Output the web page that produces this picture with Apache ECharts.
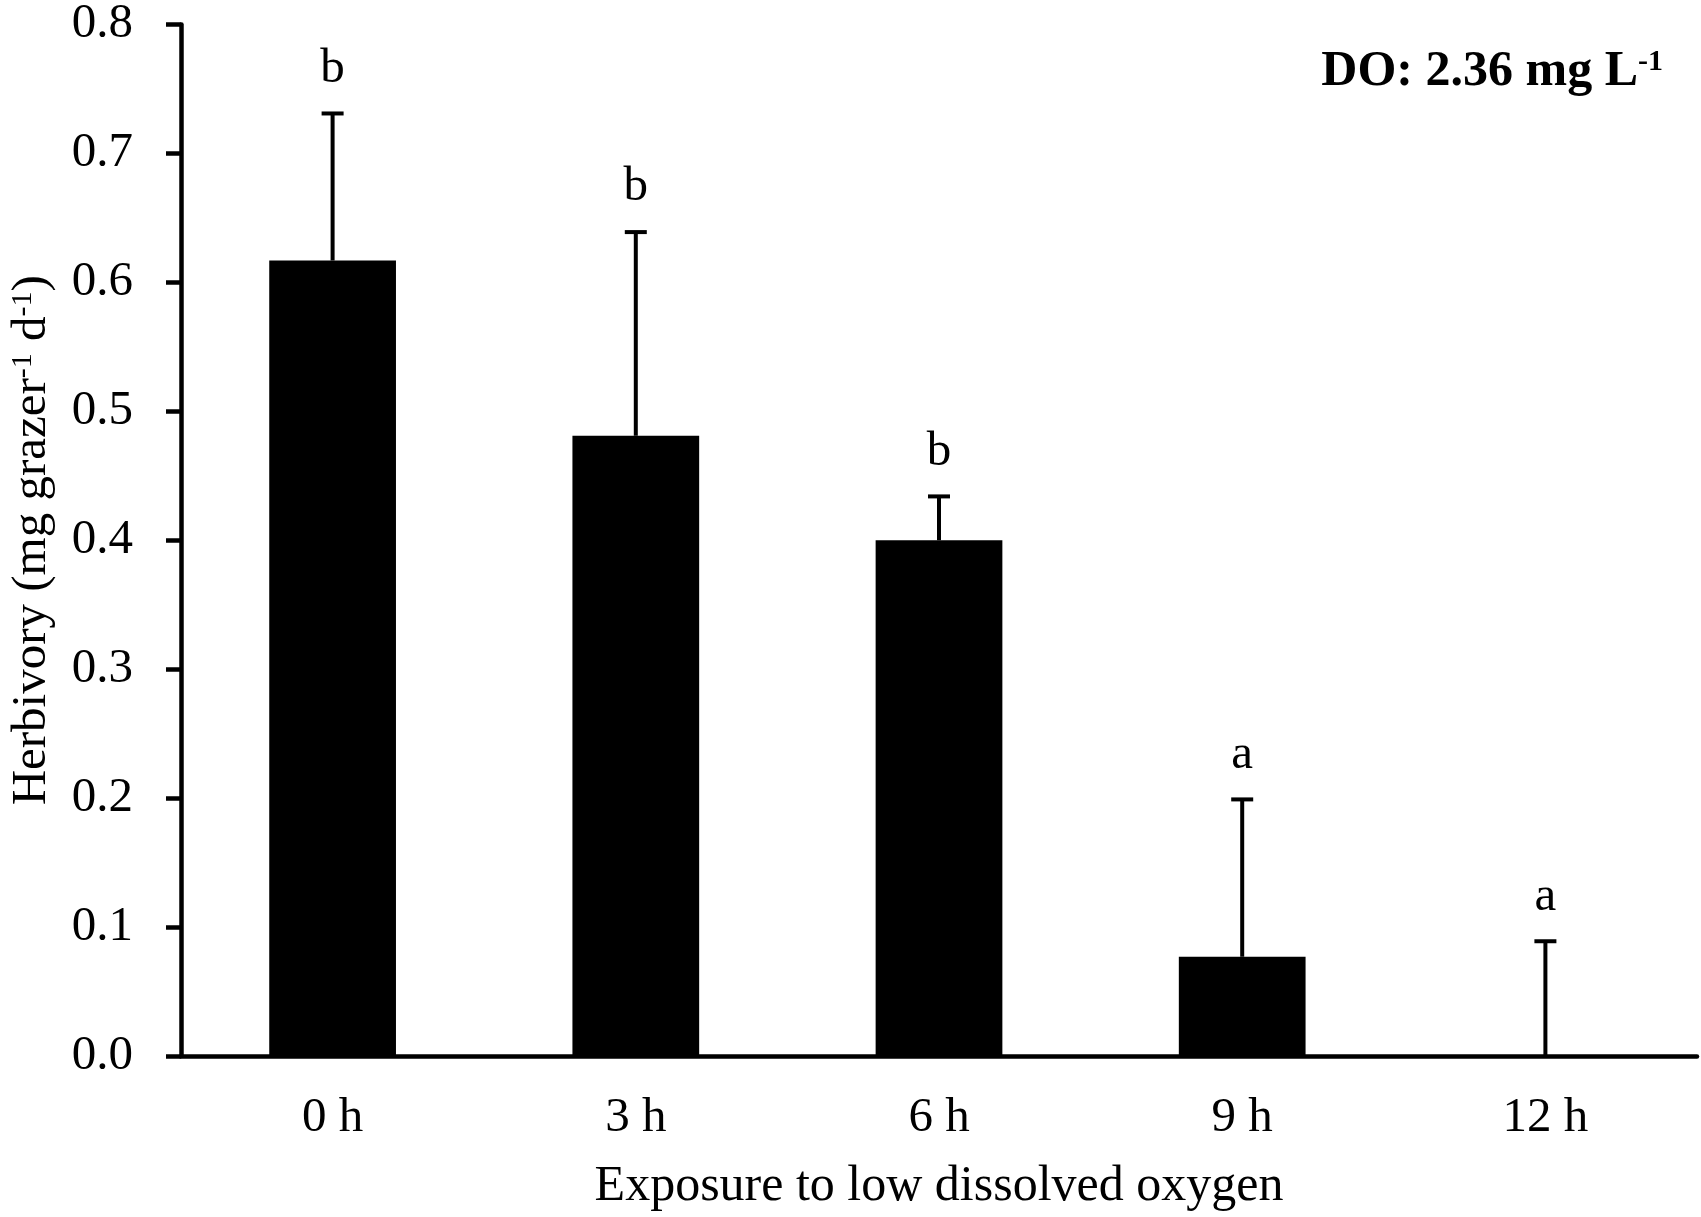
<!DOCTYPE html>
<html>
<head>
<meta charset="utf-8">
<script src="https://cdn.jsdelivr.net/npm/echarts@6/dist/echarts.min.js"></script>
<style>
  html, body { margin: 0; padding: 0; background: #fff; }
  #chart { width: 1701px; height: 1217px; }
</style>
</head>
<body>
<div id="chart"></div>
<script>
// exposure times
const categories = ['0 h', '3 h', '6 h', '9 h', '12 h'];
// mean herbivory
const means = [0.617, 0.481, 0.400, 0.077, 0.0];
// upper error (SE)
const errors = [0.114, 0.158, 0.034, 0.122, 0.089];
// significance letters
const letters = ['b', 'b', 'b', 'a', 'a'];
const yTicks = [0, 0.1, 0.2, 0.3, 0.4, 0.5, 0.6, 0.7, 0.8];

const FONT = '"Liberation Serif", "Times New Roman", serif';

const chart = echarts.init(document.getElementById('chart'));

function renderError(params, api) {
  const i = api.value(0);
  const m = api.value(1);
  const e = api.value(2);
  const base = api.coord([i, m]);
  const top = api.coord([i, m + e]);
  const lineStyle = { stroke: '#000', lineWidth: 4 };
  return {
    type: 'group',
    children: [
      { type: 'line', shape: { x1: base[0], y1: base[1], x2: top[0], y2: top[1] }, style: lineStyle },
      { type: 'line', shape: { x1: top[0] - 11, y1: top[1], x2: top[0] + 11, y2: top[1] }, style: lineStyle },
      {
        type: 'text',
        x: top[0], y: top[1] - 20,
        style: {
          text: letters[params.dataIndex],
          fontFamily: FONT, fontSize: 49, fill: '#000',
          align: 'center', verticalAlign: 'bottom'
        }
      }
    ]
  };
}

const options = {
  backgroundColor: '#ffffff',
  animation: false,
  textStyle: { fontFamily: FONT, color: '#000' },
  title: {
    right: 33,
    top: 42,
    text: '{b|DO: 2.36 mg L}{s|-1}',
    textStyle: {
      rich: {
        b: { fontFamily: FONT, fontWeight: 'bold', fontSize: 50, color: '#000' },
        s: { fontFamily: FONT, fontWeight: 'bold', fontSize: 30, color: '#000', verticalAlign: 'top' }
      }
    }
  },
  grid: { left: 168, right: 4, top: 20, bottom: 158 },
  xAxis: {
    type: 'category',
    data: categories,
    name: 'Exposure to low dissolved oxygen',
    nameLocation: 'middle',
    nameGap: 106,
    nameTextStyle: { fontFamily: FONT, fontSize: 50, color: '#000' },
    axisLine: { lineStyle: { color: '#000', width: 4.5 } },
    axisTick: { length: 13, lineStyle: { color: '#000', width: 4.5 } },
    axisLabel: { fontFamily: FONT, fontSize: 49, color: '#000', margin: 38 }
  },
  yAxis: {
    type: 'value',
    min: 0,
    max: 0.8,
    interval: 0.1,
    splitLine: { show: false },
    name: '{n|Herbivory (mg grazer}{s|-1}{n| d}{s|-1}{n|)}',
    nameLocation: 'middle',
    nameGap: 124,
    nameTextStyle: {
      rich: {
        n: { fontFamily: FONT, fontSize: 49, color: '#000' },
        s: { fontFamily: FONT, fontSize: 30, color: '#000', verticalAlign: 'top' }
      }
    },
    axisLine: { show: true, lineStyle: { color: '#000', width: 4.5 } },
    axisTick: { show: true, length: 15, lineStyle: { color: '#000', width: 4.5 } },
    axisLabel: {
      fontFamily: FONT, fontSize: 49, color: '#000', margin: 48,
      formatter: v => yTicks.includes(Math.round(v * 10) / 10) ? v.toFixed(1) : ''
    }
  },
  series: [
    {
      type: 'bar',
      data: means,
      barWidth: '41.8%',
      itemStyle: { color: '#000' }
    },
    {
      type: 'custom',
      renderItem: renderError,
      z: 10,
      data: means.map((m, i) => [i, m, errors[i]])
    }
  ]
};

chart.setOption(options);
</script>
</body>
</html>
